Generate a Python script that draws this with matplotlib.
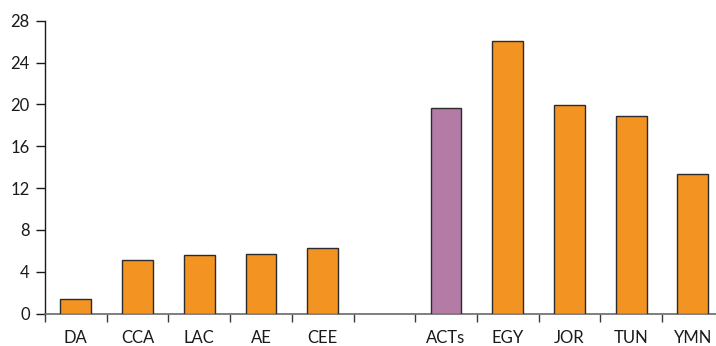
import numpy as np
import matplotlib.pyplot as plt
from matplotlib.ticker import MultipleLocator, FixedLocator

# data
categories = ['DA', 'CCA', 'LAC', 'AE', 'CEE', '', 'ACTs', 'EGY', 'JOR', 'TUN', 'YMN']
values = [1.36, 5.11, 5.59, 5.73, 6.26, None, 19.62, 26.05, 19.93, 18.91, 13.37]
bar_colors = ['#F39321'] * 6 + ['#B57BA7'] + ['#F39321'] * 4

if __name__ == '__main__':
    plt.rcParams['font.family'] = ['Lato', 'DejaVu Sans']

    fig = plt.figure(figsize=(7.16, 3.46), dpi=100)
    ax = fig.add_axes([45 / 716, 32.5 / 346, 678.7 / 716, 292.8 / 346])

    xs = [i for i, v in enumerate(values) if v is not None]
    hs = [v for v in values if v is not None]
    cs = [bar_colors[i] for i in xs]
    ax.bar(xs, hs, width=0.5, color=cs, edgecolor='#2b2b2b', linewidth=1.0, zorder=3)

    ax.set_xlim(-0.5, len(categories) - 0.5)
    ax.set_ylim(0, 28)

    ax.spines['top'].set_visible(False)
    ax.spines['right'].set_visible(False)
    ax.spines['left'].set_color('#1a1a1a')
    ax.spines['left'].set_linewidth(1.0)
    ax.spines['bottom'].set_color('#6a6a6a')
    ax.spines['bottom'].set_linewidth(1.2)
    ax.spines['left'].set_bounds(0, 28)

    ax.yaxis.set_major_locator(MultipleLocator(4))
    ax.tick_params(axis='y', direction='out', length=6.5, width=1.0, color='#1a1a1a',
                   pad=4.5, labelsize=12, labelcolor='#1a1a1a')

    ax.set_xticks(range(len(categories)))
    ax.set_xticklabels(categories)
    ax.tick_params(axis='x', which='major', length=0, pad=12, labelsize=12, labelcolor='#1a1a1a')
    ax.xaxis.set_minor_locator(FixedLocator(np.arange(-0.5, len(categories), 1.0)))
    ax.tick_params(axis='x', which='minor', direction='out', length=6, width=1.0, color='#3a3a3a')

    fig.savefig('out.png', dpi=100)
